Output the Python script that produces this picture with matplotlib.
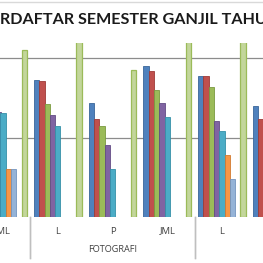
import matplotlib
matplotlib.use("Agg")
import matplotlib.pyplot as plt
import matplotlib.transforms as mtransforms
import numpy as np

# ---- data (gridline step = 50) ----
categories = ["JML", "L", "P", "JML", "L", "P"]
programs = ["", "FOTOGRAFI", ""]
program_spans = [(0, 0), (1, 3), (4, 5)]
series_names = ["S1", "S2", "S3", "S4", "S5", "S6", "S7", "S8", "JUMLAH"]
s1 = [80.0, 86.2, 71.7, 95.0, 88.7, 69.8]
s2 = [78.0, 85.5, 61.6, 91.8, 88.7, 61.6]
s3 = [70.0, 71.1, 57.2, 79.9, 81.8, 57.0]
s4 = [66.0, 64.2, 45.3, 71.7, 60.4, 45.0]
s5 = [65.4, 57.2, 30.2, 62.9, 54.1, 30.0]
s6 = [30.2, 0.0, 0.0, 0.0, 39.0, 0.0]
s7 = [30.2, 0.0, 0.0, 0.0, 23.9, 0.0]
s8 = [0.0, 0.0, 0.0, 0.0, 0.0, 0.0]
s9 = [105.0, 118.0, 92.5, 120.0, 118.0, 95.0]
series = [s1, s2, s3, s4, s5, s6, s7, s8, s9]

colors = ["#4F81BD", "#C0504D", "#9BBB59", "#8064A2", "#4BACC6",
          "#F79646", "#95B3D7", "#2C4D75", "#C3D69B"]
edges = ["#3A6699", "#9E3B38", "#7A9A40", "#634C85", "#3590A8",
         "#D27A30", "#7394BE", "#1F3652", "#9BBB59"]

W = H = 263
fig = plt.figure(figsize=(W / 100, H / 100), dpi=100)
fig.patch.set_facecolor("white")

ax_bottom_px = 217
ax_top_px = 43
ax = fig.add_axes([0, (H - ax_bottom_px) / H, 1, (ax_bottom_px - ax_top_px) / H])
ax.set_facecolor("none")

pitch_px = 54.7
bar_px = 5.3
c0_px = 3.15
w = bar_px / pitch_px
x = np.arange(len(categories))
for i, (vals, fc, ec) in enumerate(zip(series, colors, edges)):
    ax.bar(x + (i - 4) * w, vals, width=w, color=fc, edgecolor=ec,
           linewidth=0.6 if i < 8 else 0.9, zorder=3)

gstep = 50
ax.set_ylim(0, gstep * (ax_bottom_px - ax_top_px) / 79.5)
ax.set_xlim((0 - c0_px) / pitch_px, (W - c0_px) / pitch_px)
for gy in [gstep, 2 * gstep]:
    ax.axhline(gy, color="#8C8C8C", lw=0.9, zorder=1)
for s in ax.spines.values():
    s.set_visible(False)
ax.set_xticks([])
ax.set_yticks([])

trans = mtransforms.blended_transform_factory(ax.transData, fig.transFigure)
for xi, lab in zip(x, categories):
    ax.text(xi, (H - 231) / H, lab, transform=trans, ha="center", va="center",
            fontsize=6.8, family="Open Sans", color="#404040")
for (a, b), name in zip(program_spans, programs):
    if name:
        ax.text((a + b) / 2, (H - 250) / H, name, transform=trans, ha="center",
                va="center", fontsize=6.6, family="Open Sans", color="#404040")
    for edge in (a - 0.5, b + 0.5):
        ax.plot([edge, edge], [(H - 217) / H, (H - 258) / H], transform=trans,
                color="#BFBFBF", lw=1.0, clip_on=False)

# top border of chart area
fig.add_artist(plt.Line2D([0, 1], [(H - 1.5) / H] * 2, color="#D9D9D9", lw=1.0))

# title (cropped by the figure edge)
title = "JUMLAH MAHASISWA TERDAFTAR SEMESTER GANJIL TAHUN 2013/2014"
prefix = "JUMLAH MAHASISWA TE"
fkw = dict(fontsize=11.6, fontweight="bold", family="Lato", color="#1A1A1A")
fig.canvas.draw()
r = fig.canvas.get_renderer()
tp = fig.text(0, 0, prefix + "R", **fkw)
tr = fig.text(0, 0, "R", **fkw)
full_w = tp.get_window_extent(r).width
r_w = tr.get_window_extent(r).width
tp.remove(); tr.remove()
shift_px = full_w - r_w
fig.text(-shift_px / W, (H - 20) / H, title, ha="left", va="center", **fkw)

fig.savefig("out.png", dpi=100, facecolor="white")
